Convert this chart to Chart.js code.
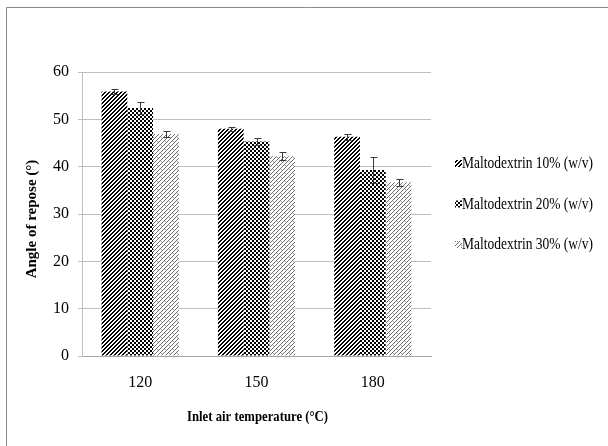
<!DOCTYPE html>
<html>
<head>
<meta charset="utf-8">
<script src="https://cdn.jsdelivr.net/npm/chart.js@4/dist/chart.umd.min.js"></script>
<style>
  html, body { margin: 0; padding: 0; background: #ffffff; }
  #wrap { width: 608px; height: 446px; position: relative; }
</style>
</head>
<body>
<div id="wrap"><canvas id="c" width="608" height="446"></canvas></div>
<script>
// ---- data ----
const categories = ['120', '150', '180'];
const seriesLabels = ['Maltodextrin 10% (w/v)', 'Maltodextrin 20% (w/v)', 'Maltodextrin 30% (w/v)'];
const md10 = [55.9, 48.0, 46.3];
const md20 = [52.4, 45.3, 39.3];
const md30 = [46.9, 42.2, 36.7];
const md10Err = [0.5, 0.4, 0.6];
const md20Err = [1.2, 0.8, 2.7];
const md30Err = [0.7, 0.8, 0.7];
const yTicks = [0, 10, 20, 30, 40, 50, 60];
const xTitle = 'Inlet air temperature (°C)';
const yTitle = 'Angle of repose (°)';

const SERIF = '"Liberation Serif", "Times New Roman", serif';

// ---- patterns ----
function makePattern(size, fn) {
  const c = document.createElement('canvas');
  c.width = size; c.height = size;
  const g = c.getContext('2d');
  const img = g.createImageData(size, size);
  for (let y = 0; y < size; y++) {
    for (let x = 0; x < size; x++) {
      const v = fn(x, y);
      const i = (y * size + x) * 4;
      img.data[i] = v; img.data[i+1] = v; img.data[i+2] = v; img.data[i+3] = 255;
    }
  }
  g.putImageData(img, 0, 0);
  return document.getElementById('c').getContext('2d').createPattern(c, 'repeat');
}
const pat1 = makePattern(4, (x, y) => ((x + y) % 4 < 2 ? 0 : 255));
const pat2 = makePattern(4, (x, y) => (((Math.floor(x / 2) + Math.floor(y / 2)) % 2 === 0) ? 0 : 255));
const pat3 = makePattern(8, (x, y) => {
  if ((x + y) % 4 === 0) return 110;
  if (((x - y + 16) % 8 === 0) && ((x + y) % 8 < 3)) return 150;
  return 255;
});

const errs = [md10Err, md20Err, md30Err];

const errorBars = {
  id: 'errorBars',
  afterDatasetsDraw(chart) {
    const ctx = chart.ctx;
    const ys = chart.scales.y;
    ctx.save();
    ctx.strokeStyle = '#3a3a3a';
    ctx.lineWidth = 1;
    chart.data.datasets.forEach((ds, i) => {
      const meta = chart.getDatasetMeta(i);
      meta.data.forEach((el, j) => {
        const v = ds.data[j], e = errs[i][j];
        const x = Math.round(el.x) + 0.5;
        const y1 = Math.round(ys.getPixelForValue(v + e)) + 0.5;
        const y2 = Math.round(ys.getPixelForValue(v - e)) + 0.5;
        ctx.beginPath();
        ctx.moveTo(x, y1); ctx.lineTo(x, y2);
        ctx.moveTo(x - 3, y1); ctx.lineTo(x + 4, y1);
        ctx.moveTo(x - 3, y2); ctx.lineTo(x + 4, y2);
        ctx.stroke();
      });
    });
    ctx.restore();
  }
};

const frameTitlesLegend = {
  id: 'frameTitlesLegend',
  afterDraw(chart) {
    const ctx = chart.ctx;
    const area = chart.chartArea;
    ctx.save();
    // outer frame (left + top edges visible)
    ctx.strokeStyle = '#8a8a8a';
    ctx.lineWidth = 1;
    ctx.beginPath();
    ctx.moveTo(6.5, 446); ctx.lineTo(6.5, 7.5); ctx.lineTo(608, 7.5);
    ctx.stroke();

    // axis titles
    ctx.fillStyle = '#000';
    ctx.font = 'bold 15px ' + SERIF;
    ctx.textAlign = 'center';
    ctx.textBaseline = 'alphabetic';
    ctx.fillText(xTitle, (area.left + area.right) / 2 + 1, 421, 141);

    ctx.save();
    ctx.translate(32.5, 219);
    ctx.rotate(-Math.PI / 2);
    ctx.font = 'bold 15px ' + SERIF;
    ctx.textBaseline = 'middle';
    ctx.fillText(yTitle, 0, 0);
    ctx.restore();

    // legend
    const centers = [163, 203.5, 244];
    ctx.font = '17px ' + SERIF;
    ctx.textAlign = 'left';
    ctx.textBaseline = 'middle';
    chart.data.datasets.forEach((ds, i) => {
      const cy = centers[i];
      ctx.fillStyle = ds.backgroundColor;
      ctx.fillRect(455, cy - 3, 7, 7);
      ctx.fillStyle = '#000';
      ctx.fillText(ds.label, 462, cy + 1, 131);
    });
    ctx.restore();
  }
};

new Chart(document.getElementById('c'), {
  type: 'bar',
  data: {
    labels: categories,
    datasets: [
      { label: seriesLabels[0], data: md10, backgroundColor: pat1 },
      { label: seriesLabels[1], data: md20, backgroundColor: pat2 },
      { label: seriesLabels[2], data: md30, backgroundColor: pat3 }
    ]
  },
  options: {
    responsive: false,
    animation: false,
    devicePixelRatio: 1,
    layout: { padding: { left: 8, top: 72, right: 177, bottom: 0 } },
    datasets: { bar: { categoryPercentage: 0.664, barPercentage: 1.0, borderWidth: 0 } },
    plugins: {
      legend: { display: false },
      tooltip: { enabled: false },
      title: { display: false }
    },
    scales: {
      x: {
        grid: { display: false, drawTicks: false },
        border: { display: true, color: '#a6a6a6', width: 1 },
        ticks: { color: '#000', padding: 17, font: { family: SERIF, size: 16 } },
        title: { display: false },
        afterFit(s) { s.height = 90; }
      },
      y: {
        min: 0, max: 60,
        afterBuildTicks(s) { s.ticks = yTicks.map(v => ({ value: v })); },
        grid: { color: '#bfbfbf', tickLength: 4, drawTicks: true },
        border: { display: true, color: '#bfbfbf', width: 1 },
        ticks: { color: '#000', padding: 9, font: { family: SERIF, size: 16 } },
        title: { display: false },
        afterFit(s) { s.width = 74; }
      }
    }
  },
  plugins: [errorBars, frameTitlesLegend]
});
</script>
</body>
</html>
